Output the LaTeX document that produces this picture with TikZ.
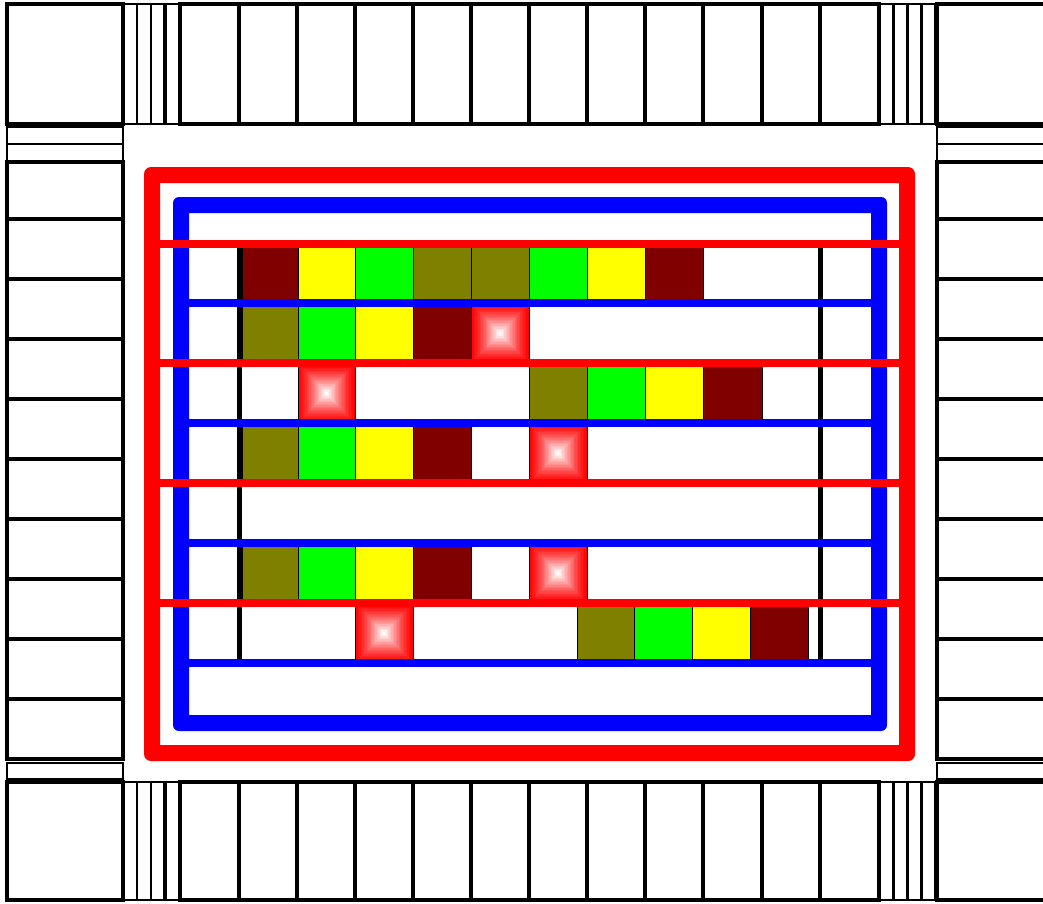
\documentclass[tikz,border=0pt]{standalone}
\begin{document}
\definecolor{olv}{rgb}{0.5,0.5,0}
\definecolor{mrn}{rgb}{0.5,0,0}
\definecolor{grn}{rgb}{0,1,0}
\definecolor{ylw}{rgb}{1,1,0}
\newcommand\cellbox[5]{\fill[#5,draw=black,line width=0.8pt] (#1,#3) rectangle (#2,#4);}
\newcommand\glowbox[4]{%
  \foreach \i in {0,...,19}{%
    \pgfmathtruncatemacro\p{100-100*(\i/19)^1.3}%
    \fill[red!\p!white] ({#1+\i*(#2-#1)/40},{#3+\i*(#4-#3)/40}) rectangle ({#2-\i*(#2-#1)/40},{#4-\i*(#4-#3)/40});
  }%
  \draw[black,line width=0.8pt] (#1,#3) rectangle (#2,#4);
}
\begin{tikzpicture}[x=1pt,y=-1pt,
  pad/.style={draw=black,line width=3.5pt},
  strip/.style={draw=black,line width=2.5pt},
  redline/.style={draw=red,line width=8pt},
  blueline/.style={draw=blue,line width=8pt},
  blackline/.style={draw=black,line width=5pt}]
\useasboundingbox (0,0) rectangle (1043,903);
\clip (0,0) rectangle (1043,903);
\fill[white] (0,0) rectangle (1043,903);
% ---- top and bottom pad rows
\foreach \ya/\yb in {4/124,782/900}{
  \draw[pad] (7,\ya) rectangle (123,\yb);
  \draw[pad] (937,\ya) rectangle (1060,\yb);
  \foreach \a/\b in {124/137,137/151,151/164,166/180,880/893,894/907,908/921,922/935}
    \draw[strip] (\a,\ya) rectangle (\b,\yb);
  \foreach \a/\b in {180/239,239/297,297/355,355/413,413/471,471/529,529/587,587/645,645/703,703/762,762/820,820/879}
    \draw[pad] (\a,\ya) rectangle (\b,\yb);
}
% ---- left and right pad columns
\foreach \xa/\xb in {7/123,937/1060}{
  \foreach \a/\b in {127/144,144/162,763/779}
    \draw[strip] (\xa,\a) rectangle (\xb,\b);
  \foreach \a/\b in {162/219,219/279,279/339,339/399,399/459,459/519,519/579,579/639,639/699,699/759}
    \draw[pad] (\xa,\a) rectangle (\xb,\b);
}
% ---- rings
\fill[red,even odd rule] [rounded corners=7pt] (144,167) rectangle (915,761) [sharp corners] (160,183) rectangle (899,745);
\fill[blue,even odd rule] [rounded corners=6pt] (173,197) rectangle (887,731) [sharp corners] (189,213) rectangle (871,715);
% ---- row 1
\cellbox{242}{298}{243}{303}{mrn}
\cellbox{298}{355}{243}{303}{ylw}
\cellbox{355}{413}{243}{303}{grn}
\cellbox{413}{471}{243}{303}{olv}
\cellbox{471}{529}{243}{303}{olv}
\cellbox{529}{587}{243}{303}{grn}
\cellbox{587}{645}{243}{303}{ylw}
\cellbox{645}{703}{243}{303}{mrn}
% ---- row 2
\cellbox{242}{298}{303}{363}{olv}
\cellbox{298}{355}{303}{363}{grn}
\cellbox{355}{413}{303}{363}{ylw}
\cellbox{413}{471}{303}{363}{mrn}
\glowbox{471}{529}{303}{363}
% ---- row 3
\glowbox{298}{355}{363}{423}
\cellbox{529}{587}{363}{423}{olv}
\cellbox{587}{645}{363}{423}{grn}
\cellbox{645}{703}{363}{423}{ylw}
\cellbox{703}{762}{363}{423}{mrn}
% ---- rows 4 and 6
\foreach \ya/\yb in {423/483,543/603}{
  \cellbox{242}{298}{\ya}{\yb}{olv}
  \cellbox{298}{355}{\ya}{\yb}{grn}
  \cellbox{355}{413}{\ya}{\yb}{ylw}
  \cellbox{413}{471}{\ya}{\yb}{mrn}
  \glowbox{529}{587}{\ya}{\yb}
}
% ---- row 7
\glowbox{355}{413}{603}{663}
\cellbox{577}{634}{603}{663}{olv}
\cellbox{634}{692}{603}{663}{grn}
\cellbox{692}{750}{603}{663}{ylw}
\cellbox{750}{808}{603}{663}{mrn}
% ---- vertical black rails
\coordinate (la) at (239.5,244); \coordinate (lb) at (239.5,662);
\coordinate (ra) at (820.5,244); \coordinate (rb) at (820.5,662);
\draw[blackline] (la) -- (lb);
\draw[blackline] (ra) -- (rb);
% ---- horizontal rails
\foreach \y in {303,423,543,663}{
  \coordinate (bl\y) at (181,\y); \coordinate (br\y) at (879,\y);
  \draw[blueline] (bl\y) -- (br\y);
}
\foreach \y in {244,363,483,603}{
  \coordinate (rl\y) at (152,\y); \coordinate (rr\y) at (907,\y);
  \draw[redline] (rl\y) -- (rr\y);
}
\end{tikzpicture}
\end{document}
